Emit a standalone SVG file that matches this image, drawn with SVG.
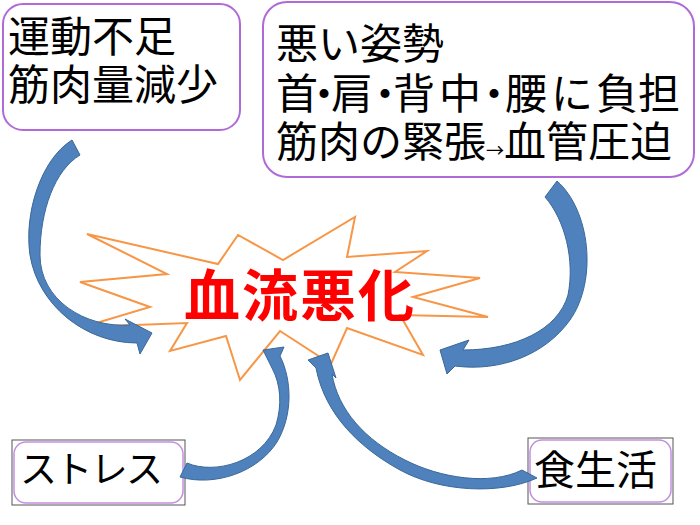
<svg xmlns="http://www.w3.org/2000/svg" width="700" height="525" viewBox="0 0 700 525">
<style>
.box{fill:#fff;stroke:#b06ad8;stroke-width:2}
.frame{fill:#fff;stroke:#555;stroke-width:1}
.inner{fill:none;stroke:#c48ee0;stroke-width:1.5}
.t{font-family:"Noto Sans CJK JP","Noto Sans CJK SC",sans-serif;fill:#000}
.arrow{fill:#4f81bd;stroke:#3a6898;stroke-width:1;stroke-linejoin:round}
.star{fill:none;stroke:#f79646;stroke-width:2;stroke-linejoin:miter}
</style>
<rect width="700" height="525" fill="#fff"/>
<g id="node-undou">
<rect class="box" x="3" y="4" width="237" height="126" rx="20"/>
<text class="t" font-size="42" x="8" y="52">運動不足</text>
<text class="t" font-size="42" x="8" y="100">筋肉量減少</text>
</g>
<g id="node-shisei">
<rect class="box" x="263" y="2" width="431" height="175" rx="24"/>
<text class="t" font-size="42" x="276" y="59">悪い姿勢</text>
<text class="t" font-size="42" y="109" x="276 303 331 364 393 439 473 505 551 596 638">首・肩・背中・腰に負担</text>
<text class="t" font-size="42" x="276" y="157">筋肉の緊張<tspan font-size="18">→</tspan>血管圧迫</text>
</g>
<g id="node-ketsuryu">
<polygon class="star" points="87,234 218,264 238,235 283,260 355,217 347,257 427,251 395,272 480,278 413,297 488,317 400,315 423,355 347,328 331,364 280,331 240,380 226,336 170,351 187,323 83,327 150,307 80,282 167,274"/>
<text x="300" y="316" text-anchor="middle" font-family="'Noto Sans CJK JP','Noto Sans CJK SC',sans-serif" font-weight="bold" font-size="56" letter-spacing="2" fill="#ff0000">血流悪化</text>
</g>
<g id="node-stress">
<rect class="frame" x="12" y="440" width="173" height="65"/>
<rect class="inner" x="14" y="442" width="169" height="61" rx="12"/>
<text class="t" font-size="37" x="20" y="483" textLength="143" lengthAdjust="spacing">ストレス</text>
</g>
<g id="node-shoku">
<rect class="frame" x="528" y="438" width="145" height="66"/>
<rect class="inner" x="530" y="440" width="141" height="62" rx="12"/>
<text class="t" font-size="41" x="534" y="485">食生活</text>
</g>
<g id="connectors">
<path class="arrow" d="M72,140 C40,160 24,215 30,255 C38,305 85,343 137,343 L140,354 L152,333 L125,319 L130,325 C85,328 40,300 40,255 C40,210 55,170 80,155 Z"/>
<path class="arrow" d="M557,181 C590,210 598,280 570,320 C545,355 500,372 455,366 L447,374 L440,350 L469,340 L463,350 C515,350 558,330 568,295 C575,260 565,220 545,197 Z"/>
<path class="arrow" d="M187,463 C215,475 262,462 276,425 C282,405 281,385 272,368 L263,350 L284,347 L280,356 C292,380 293,415 277,442 C258,472 215,487 180,477 Z"/>
<path class="arrow" d="M537,478 C500,495 440,492 400,470 C360,448 325,415 316,368 L308,360 L328,353 L336,378 L332,374 C338,410 365,440 405,460 C440,478 490,486 522,470 Z"/>
</g>
</svg>
